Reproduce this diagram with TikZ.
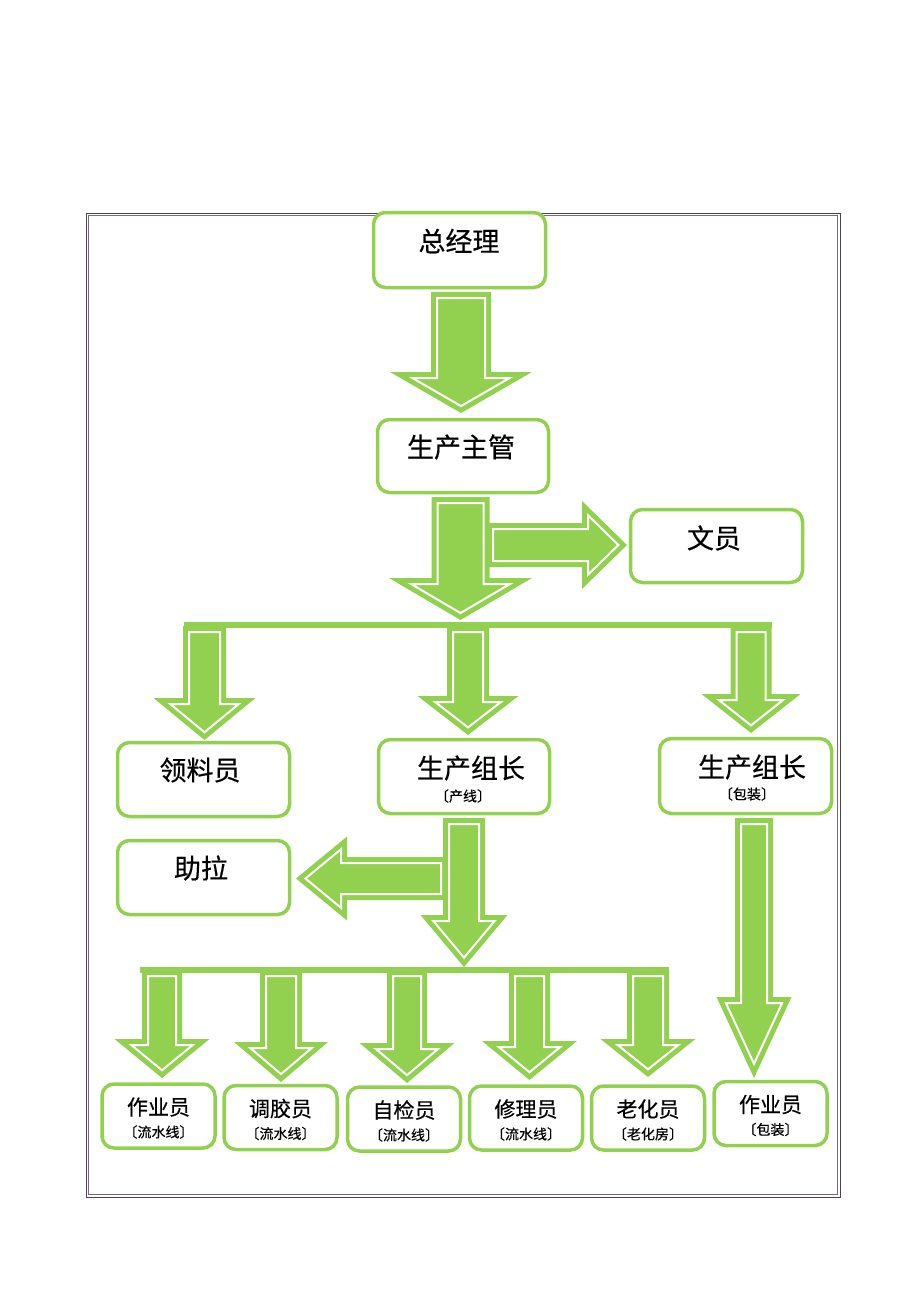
\documentclass[tikz,border=0pt]{standalone}
\usepackage{fontspec}
\newfontfamily\cjk[FakeBold=0.4]{Noto Sans CJK SC}
\definecolor{leaf}{RGB}{146,208,80}
\definecolor{ramA}{RGB}{70,70,70}
\definecolor{ramB}{RGB}{130,100,130}

% blokova sipka: ocas (x,y), uhel, pul sirky driku, pul sirky hrotu, zacatek hrotu, spicka
\newcommand{\blokSipka}[7]{%
  \begin{scope}[shift={(#1,#2)}, rotate=#3]
    \pgfmathsetmacro{\sipL}{#7-#6}
    \pgfmathsetmacro{\sipS}{sqrt((#5)^2+(\sipL)^2)}
    \pgfmathsetmacro{\sipH}{#5*(\sipL-6)/\sipL-6*\sipS/\sipL}
    \pgfmathsetmacro{\sipT}{#7-6*\sipS/#5}
    \draw[blk] (6,{-(#4-6)}) -- ({#6+6},{-(#4-6)}) -- ({#6+6},-\sipH) -- (\sipT,0)
      -- ({#6+6},\sipH) -- ({#6+6},{#4-6}) -- (6,{#4-6}) -- cycle;
  \end{scope}}

\tikzset{
  box/.style={draw=leaf, line width=3.5pt, rounded corners=12pt, fill=white, inner sep=0pt},
  blk/.style={fill=leaf, draw=leaf, line width=5pt, double=white, double distance=2pt, line join=miter},
  big/.style={font=\cjk\fontsize{27}{30}\selectfont},
  mid/.style={font=\cjk\fontsize{21}{24}\selectfont},
  tiny/.style={font=\cjk\fontsize{14}{16}\selectfont},
}

\begin{document}
\begin{tikzpicture}[x=1pt, y=-1pt]
  % pevny ramecek obrazku
  \useasboundingbox (0,0) rectangle (920,1302);

  % --- RAMECEK ---
  \draw[ramA, line width=1pt] (86,213) rectangle (840,1197);
  \draw[ramB, line width=1pt] (88.5,215.5) rectangle (837.5,1194.5);

  % --- SIPKY (pod boxy) ---
  \blokSipka{461}{292}{-90}{30}{71}{80}{121}
  \blokSipka{460.5}{497}{-90}{29}{71.5}{81}{123}
  \blokSipka{487}{545}{0}{22}{44}{95}{140}

  % horni vetveni
  \fill[leaf] (184,622) rectangle (772,628);
  \blokSipka{204.5}{626}{-90}{21.5}{51}{72}{114}
  \blokSipka{468}{626}{-90}{21}{50.5}{70}{109}
  \blokSipka{751}{626}{-90}{20.5}{49.5}{68}{107}

  % z prvniho vedouciho skupiny
  \blokSipka{447}{878.5}{180}{21.5}{42}{100}{151}
  \blokSipka{464}{818}{-90}{21}{43.5}{97}{149}

  % dolni vetveni
  \fill[leaf] (140,967) rectangle (669,973);
  \blokSipka{162}{970}{-90}{20}{47.5}{69}{108}
  \blokSipka{281}{970}{-90}{21}{47}{72}{112}
  \blokSipka{407}{970}{-90}{20}{47.5}{73}{113}
  \blokSipka{529.5}{970}{-90}{20.5}{47.5}{71}{110}
  \blokSipka{648}{970}{-90}{21}{47.5}{69}{107}

  % dlouha sipka vpravo
  \blokSipka{754}{818}{-90}{19}{37.5}{179}{260}

  % --- BOXY ---
  \node[box, minimum width=172, minimum height=75] (zjl) at (459.5,250) {};
  \node[box, minimum width=171, minimum height=73] (zg) at (463,456) {};
  \node[box, minimum width=172, minimum height=73] (wy) at (716.5,546) {};
  \node[box, minimum width=172, minimum height=74] (lly) at (203.5,779.5) {};
  \node[box, minimum width=171, minimum height=74] (zzA) at (464,776.5) {};
  \node[box, minimum width=172, minimum height=75] (zzB) at (745.5,776) {};
  \node[box, minimum width=172, minimum height=74] (zl) at (203.5,877.5) {};

  \node[big] (tZjl) at (459,241) {总经理};
  \node[big] (tZg) at (461,447) {生产主管};
  \node[big] (tWy) at (714,538) {文员};
  \node[big] (tLly) at (200,770) {领料员};
  \node[big] (tZzA) at (471,768) {生产组长};
  \node[tiny] (sZzA) at (463,796) {〔产线〕};
  \node[big] (tZzB) at (752,767) {生产组长};
  \node[tiny] (sZzB) at (747,794) {〔包装〕};
  \node[big] (tZl) at (201,868) {助拉};

  % --- SPODNI RADA ---
  \foreach \x/\y/\n/\a/\b in {158.5/1116/b1/作业员/〔流水线〕, 280.5/1117.5/b2/调胶员/〔流水线〕,
      404/1119/b3/自检员/〔流水线〕, 526/1118/b4/修理员/〔流水线〕,
      648/1118/b5/老化员/〔老化房〕, 770.5/1113.5/b6/作业员/〔包装〕}{
    \node[box, minimum width=113, minimum height=64] (\n) at (\x,\y) {};
    \node[mid] (t\n) at (\x,\y-9) {\a};
    \node[tiny] (s\n) at (\x,\y+16) {\b};
  }
\end{tikzpicture}
\end{document}
